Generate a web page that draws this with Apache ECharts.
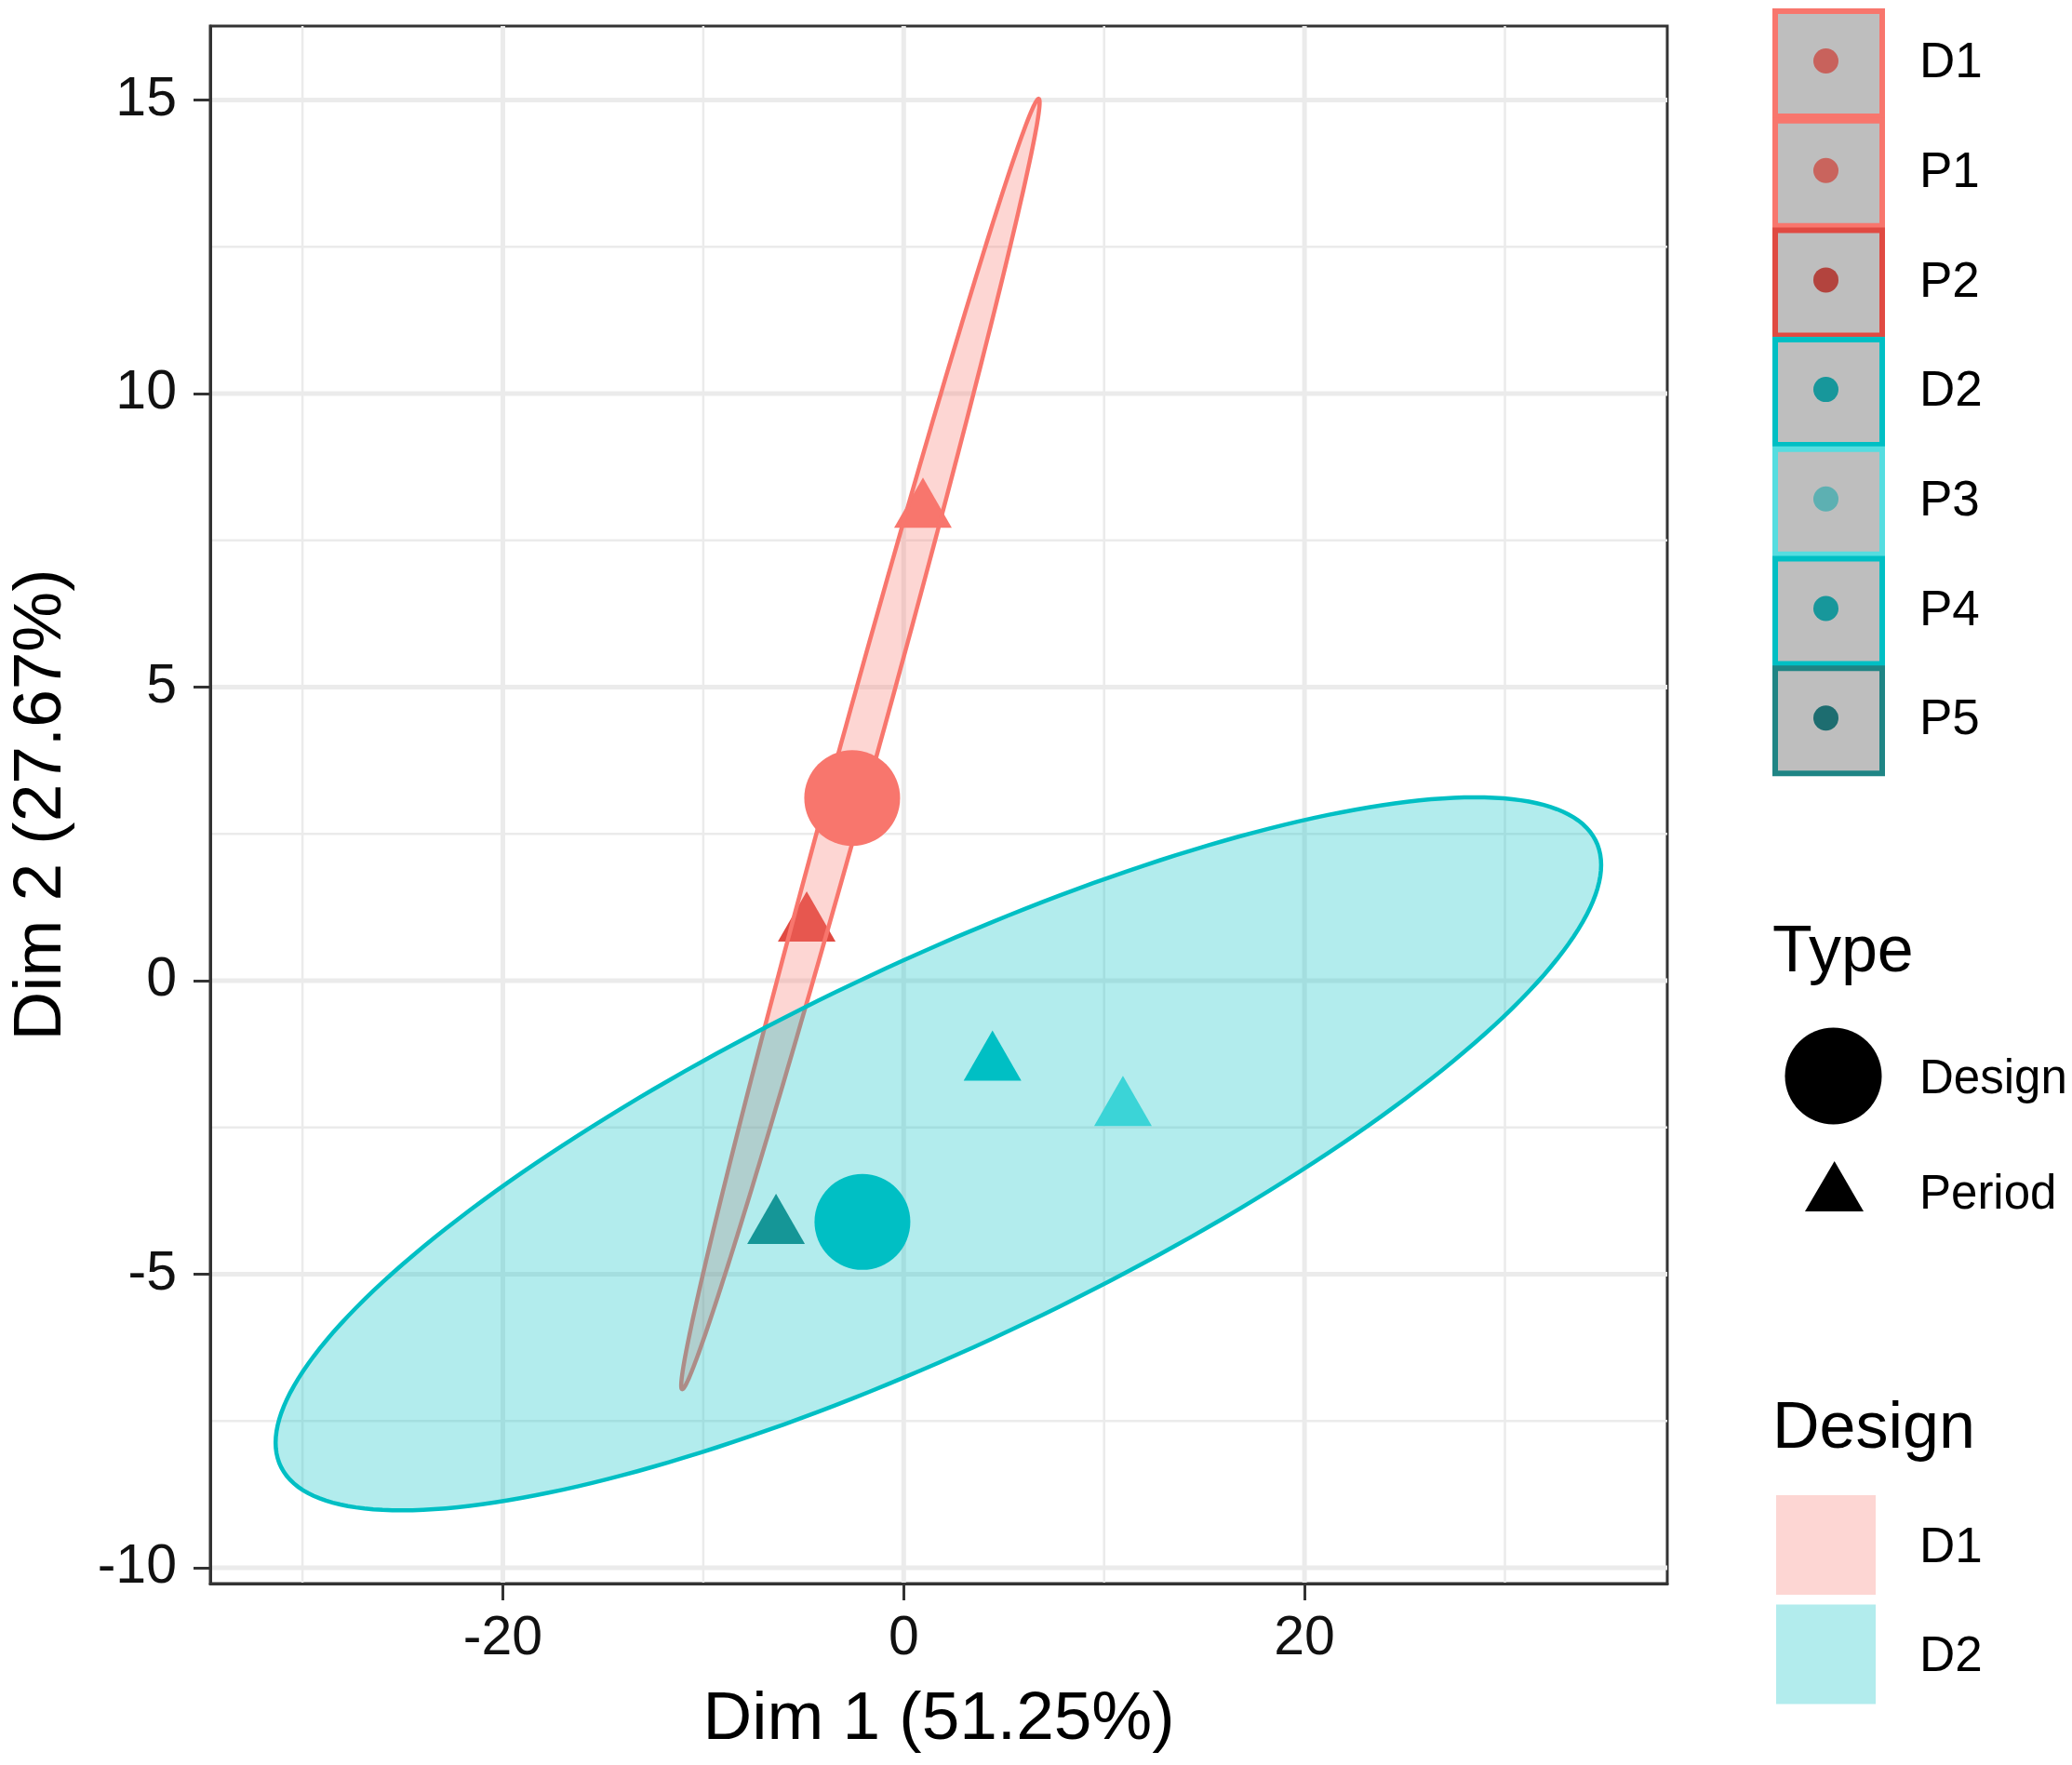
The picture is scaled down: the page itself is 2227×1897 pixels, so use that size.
<!DOCTYPE html>
<html><head><meta charset="utf-8">
<script src="https://cdn.jsdelivr.net/npm/echarts@6/dist/echarts.min.js"></script>
<style>html,body{margin:0;padding:0;background:#fff}#chart{width:2227px;height:1897px}</style>
</head><body><div id="chart"></div>
<script>
// ---------- data ----------
const pointGroup  = ['D1', 'P1', 'P2', 'D2', 'P3', 'P4', 'P5'];
const pointDesign = ['D1', 'D1', 'D1', 'D2', 'D2', 'D2', 'D2'];
const pointType   = ['Design', 'Period', 'Period', 'Design', 'Period', 'Period', 'Period'];
const dim1 = [-2.57, 0.96, -4.84, -2.06, 10.94, 4.43, -6.37];
const dim2 = [3.11, 8.00, 0.95, -4.11, -2.19, -1.42, -4.20];
const designNames = ['D1', 'D2'];
const typeNames = ['Design', 'Period'];
// confidence ellipses (data units): centre and two conjugate semi-diameters
const ellipseCenterX = [-2.16, 1.73];
const ellipseCenterY = [4.03, -2.95];
const ellipseSemiA = [[8.89, 10.99], [33.07, 4.92]];
const ellipseSemiB = [[0.97, 0], [0, 3.56]];
const xTicks = [-20, 0, 20];
const yTicks = [-10, -5, 0, 5, 10, 15];
const xMinorBreaks = [-30, -10, 10, 30];
const yMinorBreaks = [-7.5, -2.5, 2.5, 7.5, 12.5];
const xRange = [-34.6, 38.1];
const yRange = [-10.27, 16.26];

// ---------- styles ----------
const FONT = 'Liberation Sans, Arial, Helvetica, sans-serif';
const groupColor = { D1: '#F8766D', P1: '#F8766D', P2: '#E04A42', D2: '#00BFC4', P3: '#55DDE0', P4: '#00BFC4', P5: '#1F8585' };
const legendDot  = { D1: '#C8625C', P1: '#C9645D', P2: '#B3443E', D2: '#17979B', P3: '#5DB0B2', P4: '#17979B', P5: '#1D6D70' };
const designLine = { D1: '#F8766D', D2: '#00BFC4' };
const designFill = { D1: 'rgba(248,118,109,0.3)', D2: 'rgba(0,191,196,0.3)' };

const chart = echarts.init(document.getElementById('chart'), null, { renderer: 'canvas' });

const triData = [], circData = [];
for (let i = 0; i < dim1.length; i++) {
  const item = { value: [dim1[i], dim2[i]], name: pointGroup[i], itemStyle: { color: groupColor[pointGroup[i]], opacity: 1 } };
  (pointType[i] === 'Period' ? triData : circData).push(item);
}

const gridSeries = {
  type: 'custom', z: 0, silent: true, clip: true,
  data: [[0, 0]],
  renderItem: function (params, api) {
    const ch = [];
    const vline = (x, w) => {
      const a = api.coord([x, yRange[0]]), b = api.coord([x, yRange[1]]);
      ch.push({ type: 'line', shape: { x1: a[0], y1: a[1], x2: b[0], y2: b[1] }, style: { stroke: '#EBEBEB', lineWidth: w } });
    };
    const hline = (y, w) => {
      const a = api.coord([xRange[0], y]), b = api.coord([xRange[1], y]);
      ch.push({ type: 'line', shape: { x1: a[0], y1: a[1], x2: b[0], y2: b[1] }, style: { stroke: '#EBEBEB', lineWidth: w } });
    };
    xMinorBreaks.forEach(v => vline(v, 2.5));
    yMinorBreaks.forEach(v => hline(v, 2.5));
    xTicks.forEach(v => vline(v, 5));
    yTicks.forEach(v => hline(v, 5));
    return { type: 'group', children: ch };
  }
};

function ellipseSeries(k, z) {
  return {
    type: 'custom', z: z, silent: true, clip: true,
    data: [[ellipseCenterX[k], ellipseCenterY[k]]],
    renderItem: function (params, api) {
      const pts = [];
      const A = ellipseSemiA[k], B = ellipseSemiB[k];
      for (let s = 0; s < 240; s++) {
        const t = s / 240 * Math.PI * 2;
        const c = Math.cos(t), sn = Math.sin(t);
        pts.push(api.coord([ellipseCenterX[k] + A[0] * c + B[0] * sn, ellipseCenterY[k] + A[1] * c + B[1] * sn]));
      }
      const d = designNames[k];
      return { type: 'polygon', shape: { points: pts }, style: { fill: designFill[d], stroke: designLine[d], lineWidth: 4.5 } };
    }
  };
}

// ---------- legend (graphic) ----------
const graphics = [];
const keyX = 1905, keyW = 115, keyH = 113, keyTop0 = 9, keyPitch = 117.7, labelX = 2063;
pointGroup.forEach((g, i) => {
  const top = keyTop0 + i * keyPitch;
  graphics.push({ type: 'rect', left: keyX, top: top, shape: { width: keyW, height: keyH },
    style: { fill: '#BEBEBE', stroke: groupColor[g], lineWidth: 6 }, z: 10 });
  graphics.push({ type: 'circle', shape: { cx: keyX + keyW / 2, cy: top + keyH / 2, r: 13.5 },
    style: { fill: legendDot[g] }, z: 11 });
  graphics.push({ type: 'text', x: labelX, y: top + keyH / 2 + 3,
    style: { text: g, font: '53px ' + FONT, fill: '#000', verticalAlign: 'middle', align: 'left' }, z: 11 });
});
// Type legend
graphics.push({ type: 'text', x: 1905, y: 1025, style: { text: 'Type', font: '70px ' + FONT, fill: '#000', verticalAlign: 'middle' }, z: 11 });
graphics.push({ type: 'circle', shape: { cx: 1970.5, cy: 1156.5, r: 52 }, style: { fill: '#000' }, z: 11 });
graphics.push({ type: 'polygon', shape: { points: [[1971.7, 1248], [2003, 1302], [1940, 1302]] }, style: { fill: '#000' }, z: 11 });
graphics.push({ type: 'text', x: labelX, y: 1161, style: { text: typeNames[0], font: '51px ' + FONT, fill: '#000', verticalAlign: 'middle' }, z: 11 });
graphics.push({ type: 'text', x: labelX, y: 1285, style: { text: typeNames[1], font: '51px ' + FONT, fill: '#000', verticalAlign: 'middle' }, z: 11 });
// Design legend
graphics.push({ type: 'text', x: 1905, y: 1537, style: { text: 'Design', font: '70px ' + FONT, fill: '#000', verticalAlign: 'middle' }, z: 11 });
designNames.forEach((d, i) => {
  const top = 1607 + i * 117.5;
  graphics.push({ type: 'rect', left: 1909, top: top, shape: { width: 107, height: 107 }, style: { fill: designFill[d] }, z: 10 });
  graphics.push({ type: 'text', x: labelX, y: top + 57, style: { text: d, font: '53px ' + FONT, fill: '#000', verticalAlign: 'middle' }, z: 11 });
});

const option = {
  animation: false,
  backgroundColor: '#fff',
  textStyle: { fontFamily: FONT },
  grid: { left: 219, top: 28, width: 1573, height: 1674, show: true, borderColor: '#333', borderWidth: 3, backgroundColor: 'transparent', containLabel: false },
  xAxis: {
    type: 'value', min: xRange[0], max: xRange[1],
    splitLine: { show: false },
    axisLine: { show: true, onZero: false, lineStyle: { color: '#333', width: 3 } },
    axisTick: { show: true, length: 18, lineStyle: { color: '#333', width: 3 }, customValues: xTicks },
    axisLabel: { customValues: xTicks, fontSize: 59, color: '#111', margin: 30, fontFamily: FONT },
    name: 'Dim 1 (51.25%)', nameLocation: 'middle', nameGap: 110,
    nameTextStyle: { fontSize: 73, color: '#000', fontFamily: FONT }
  },
  yAxis: {
    type: 'value', min: yRange[0], max: yRange[1],
    splitLine: { show: false },
    axisLine: { show: true, onZero: false, lineStyle: { color: '#333', width: 3 } },
    axisTick: { show: true, length: 18, lineStyle: { color: '#333', width: 3 }, customValues: yTicks },
    axisLabel: { customValues: yTicks, fontSize: 59, color: '#111', margin: 36, fontFamily: FONT },
    name: 'Dim 2 (27.67%)', nameLocation: 'middle', nameGap: 145, nameRotate: 90,
    nameTextStyle: { fontSize: 73, color: '#000', fontFamily: FONT }
  },
  series: [
    gridSeries,
    { type: 'scatter', name: 'Period', z: 1, silent: true, symbol: 'triangle', symbolSize: [62, 54], symbolOffset: [0, -9], itemStyle: { opacity: 1 }, data: triData },
    ellipseSeries(0, 2),
    ellipseSeries(1, 3),
    { type: 'scatter', name: 'Design', z: 4, silent: true, symbol: 'circle', symbolSize: 103, itemStyle: { opacity: 1 }, data: circData }
  ],
  graphic: graphics
};
chart.setOption(option);
</script></body></html>
